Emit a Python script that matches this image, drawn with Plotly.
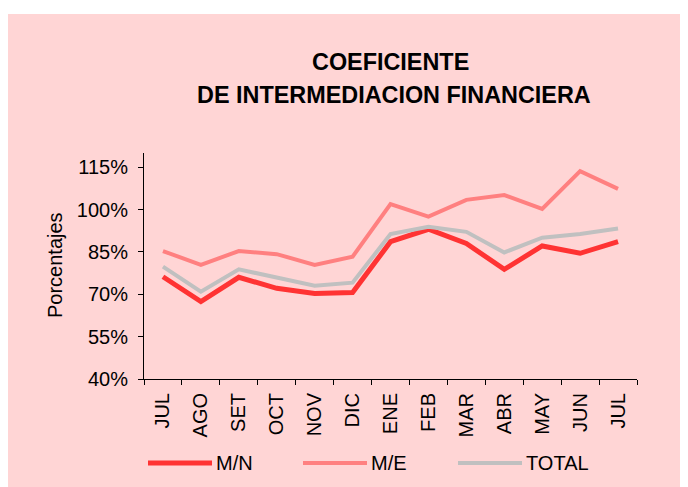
import plotly.graph_objects as go

months = ["JUL", "AGO", "SET", "OCT", "NOV", "DIC", "ENE", "FEB", "MAR", "ABR", "MAY", "JUN", "JUL"]
mn = [76.2, 67.4, 76.0, 72.1, 70.3, 70.6, 88.6, 93.0, 88.0, 78.8, 87.1, 84.5, 88.6]
me = [85.3, 80.4, 85.3, 84.2, 80.4, 83.3, 101.9, 97.5, 103.4, 105.1, 100.2, 113.6, 107.3]
total = [79.8, 70.9, 78.8, 75.9, 73.0, 74.1, 91.3, 93.9, 92.1, 84.8, 90.0, 91.3, 93.3]
series_names = ["M/N", "M/E", "TOTAL"]
series_colors = ["#FF3333", "#FF8080", "#C0C0C0"]
series_widths = [5, 4, 4]
ytick_vals = [40, 55, 70, 85, 100, 115]
ytick_text = ["40%", "55%", "70%", "85%", "100%", "115%"]

OFF = 8  # page body margin
W, H = 688 - OFF, 487 - OFF
L, R, T, B = 144 - OFF, 637 - OFF, 153 - OFF, 379 - OFF
pw, ph = R - L, B - T


def px(x):
    return (x - OFF - L) / pw


def py(y):
    return (B - (y - OFF)) / ph


FONT = "Liberation Sans, Arial, sans-serif"
PINK = "#FFD5D5"

fig = go.Figure()
xs = list(range(len(months)))
for name, vals, col, w in zip(series_names, [mn, me, total], series_colors, series_widths):
    fig.add_trace(go.Scatter(x=xs, y=vals, mode="lines", name=name,
                             line=dict(color=col, width=w), showlegend=False))

shapes = [dict(type="rect", xref="paper", yref="paper", x0=px(8), x1=px(700),
               y0=py(500), y1=py(14), fillcolor=PINK, line=dict(width=0), layer="below")]
annotations = [
    dict(text="<b>COEFICIENTE</b>", x=px(390), y=py(62), xref="paper", yref="paper",
         showarrow=False, font=dict(size=23.4, family=FONT, color="black"), xanchor="center", yanchor="middle"),
    dict(text="<b>DE INTERMEDIACION FINANCIERA</b>", x=px(394), y=py(95), xref="paper", yref="paper",
         showarrow=False, font=dict(size=23.4, family=FONT, color="black"), xanchor="center", yanchor="middle"),
    dict(text="Porcentajes", x=px(55), y=py(265), xref="paper", yref="paper", textangle=-90,
         showarrow=False, font=dict(size=20, family=FONT, color="black"), xanchor="center", yanchor="middle"),
]
leg_starts = [148, 303, 458]
for name, col, w, x0 in zip(series_names, series_colors, series_widths, leg_starts):
    shapes.append(dict(type="line", xref="paper", yref="paper", x0=px(x0), x1=px(x0 + 64),
                       y0=py(463), y1=py(463), line=dict(color=col, width=w)))
    annotations.append(dict(text=name, x=px(x0 + 66), y=py(463), xref="paper", yref="paper",
                            showarrow=False, xanchor="left", yanchor="middle",
                            font=dict(size=20, family=FONT, color="black")))

fig.update_layout(
    width=W, height=H,
    margin=dict(l=L, r=W - R, t=T, b=H - B, pad=0, autoexpand=False),
    paper_bgcolor="white", plot_bgcolor="rgba(0,0,0,0)",
    font=dict(family=FONT, size=20, color="black"),
    shapes=shapes, annotations=annotations, showlegend=False,
    xaxis=dict(range=[-0.5, len(months) - 0.5], tickmode="array", tickvals=xs, ticktext=months,
               tickangle=-90, ticks="", showgrid=False, zeroline=False,
               showline=True, linecolor="black", linewidth=1, ticklabelstandoff=5,
               tickfont=dict(size=20), automargin=False,
               minor=dict(tickmode="linear", tick0=-0.5, dtick=1, ticks="outside", ticklen=5,
                          tickcolor="black", showgrid=False)),
    yaxis=dict(range=[40, 120], tickmode="array", tickvals=ytick_vals, ticktext=ytick_text,
               ticks="outside", ticklen=5, tickcolor="black", showgrid=False, zeroline=False,
               showline=True, linecolor="black", linewidth=1, ticklabelstandoff=6,
               tickfont=dict(size=20), automargin=False),
)
fig.write_html("out.html")
